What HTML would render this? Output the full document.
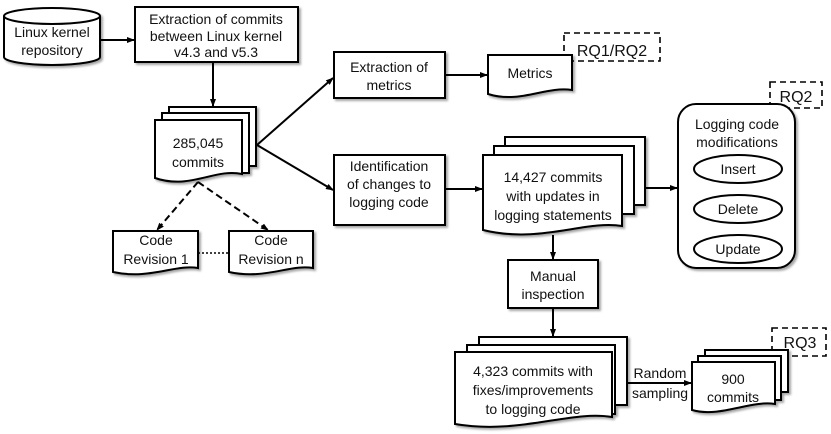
<!DOCTYPE html>
<html><head><meta charset="utf-8"><style>
html,body{margin:0;padding:0;background:#fff;}
svg{display:block;font-family:"Liberation Sans",sans-serif;}
text{font-size:14px;fill:#111;text-anchor:middle;}
</style></head><body>
<svg width="831" height="434" viewBox="0 0 831 434" xmlns="http://www.w3.org/2000/svg">
<defs>
<marker id="a" markerWidth="8" markerHeight="8" refX="7" refY="4" orient="auto" markerUnits="userSpaceOnUse"><path d="M0,1 L8,4 L0,7 Z" fill="#000"/></marker>
<filter id="s" x="-10%" y="-10%" width="130%" height="130%"><feDropShadow dx="2" dy="2" stdDeviation="1" flood-color="#000" flood-opacity="0.35"/></filter>
</defs>
<g fill="none" stroke="#000" stroke-width="1.6" stroke-dasharray="6,4">
<rect x="564" y="33" width="96" height="28"/>
<rect x="770" y="82" width="52" height="26"/>
<rect x="772" y="328" width="54" height="28"/>
</g>
<g stroke="#000" stroke-width="2" fill="#fff" filter="url(#s)">
<path d="M4,16 L4,57 A48,8 0 0 0 100,57 L100,16 A48,8 0 0 0 4,16 Z"/>
<path d="M4,16 A48,8 0 0 0 100,16" fill="none"/>
<rect x="135" y="7" width="163" height="55"/>
<rect x="169" y="107" width="87" height="59"/>
<rect x="162" y="113" width="87" height="60"/>
<path d="M155,120 H242 V174 C215,168 190,190 155,178 Z"/>
<rect x="334" y="52" width="111" height="46"/>
<rect x="334" y="155" width="111" height="70"/>
<path d="M488,55 H572 V90 C545,86 520,104 488,94 Z"/>
<rect x="505" y="137" width="140" height="68"/>
<rect x="494" y="146" width="140" height="68"/>
<path d="M483,155 H622 V226 C585,220 540,244 483,230 Z"/>
<rect x="678" y="104" width="117" height="164" rx="18"/>
<rect x="508" y="260" width="90" height="48"/>
<rect x="479" y="337" width="148" height="68"/>
<rect x="467" y="345" width="148" height="69"/>
<path d="M455,352 H612 V417 C570,410 520,435 455,424 Z"/>
<rect x="705" y="350" width="83" height="42"/>
<rect x="698" y="356" width="83" height="44"/>
<path d="M692,362 H775 V404 C750,400 720,418 692,410 Z"/>
<path d="M113,231 H198 V268 C175,264 150,280 113,272 Z"/>
<path d="M229,231 H313 V268 C290,264 265,280 229,272 Z"/>
</g>
<g fill="#fff" stroke="#000" stroke-width="2">
<ellipse cx="738" cy="169" rx="44" ry="14"/>
<ellipse cx="738" cy="209" rx="44" ry="14"/>
<ellipse cx="738" cy="249" rx="44" ry="14"/>
</g>
<g stroke="#000" stroke-width="2" fill="none" marker-end="url(#a)">
<line x1="100" y1="40" x2="134" y2="40"/>
<line x1="213" y1="62" x2="213" y2="106"/>
<line x1="257" y1="145" x2="333" y2="78"/>
<line x1="257" y1="145" x2="333" y2="190"/>
<line x1="445" y1="75" x2="487" y2="75"/>
<line x1="445" y1="189" x2="482" y2="189"/>
<line x1="645" y1="188" x2="677" y2="188"/>
<line x1="553" y1="235" x2="553" y2="259"/>
<line x1="553" y1="308" x2="553" y2="336"/>
<line x1="627" y1="383" x2="691" y2="383"/>
<line x1="198" y1="182" x2="157" y2="230" stroke-dasharray="7,4"/>
<line x1="198" y1="182" x2="268" y2="230" stroke-dasharray="7,4"/>
</g>
<line x1="198" y1="253" x2="229" y2="253" stroke="#000" stroke-width="1.5" stroke-dasharray="2,2"/>
<text x="52" y="37">Linux kernel</text><text x="52" y="55">repository</text>
<text x="216" y="24">Extraction of commits</text><text x="216" y="41">between Linux kernel</text><text x="216" y="57">v4.3 and v5.3</text>
<text x="198" y="148">285,045</text><text x="198" y="167">commits</text>
<text x="389" y="72">Extraction of</text><text x="389" y="90">metrics</text>
<text x="389" y="171">Identification</text><text x="389" y="189">of changes to</text><text x="389" y="207">logging code</text>
<text x="530" y="78">Metrics</text>
<text x="612" y="56" style="font-size:16px">RQ1/RQ2</text>
<text x="796" y="102" style="font-size:16px">RQ2</text>
<text x="553" y="182">14,427 commits</text><text x="553" y="201">with updates in</text><text x="553" y="220">logging statements</text>
<text x="737" y="129">Logging code</text><text x="737" y="147">modifications</text>
<text x="738" y="174">Insert</text><text x="738" y="214">Delete</text><text x="738" y="254">Update</text>
<text x="553" y="281">Manual</text><text x="553" y="299">inspection</text>
<text x="533" y="376">4,323 commits with</text><text x="533" y="395">fixes/improvements</text><text x="533" y="414">to logging code</text>
<text x="660" y="378">Random</text><text x="660" y="398">sampling</text>
<text x="733" y="384">900</text><text x="733" y="402">commits</text>
<text x="800" y="348" style="font-size:16px">RQ3</text>
<text x="156" y="245">Code</text><text x="156" y="264">Revision 1</text>
<text x="271" y="245">Code</text><text x="271" y="264">Revision n</text>
</svg>
</body></html>
